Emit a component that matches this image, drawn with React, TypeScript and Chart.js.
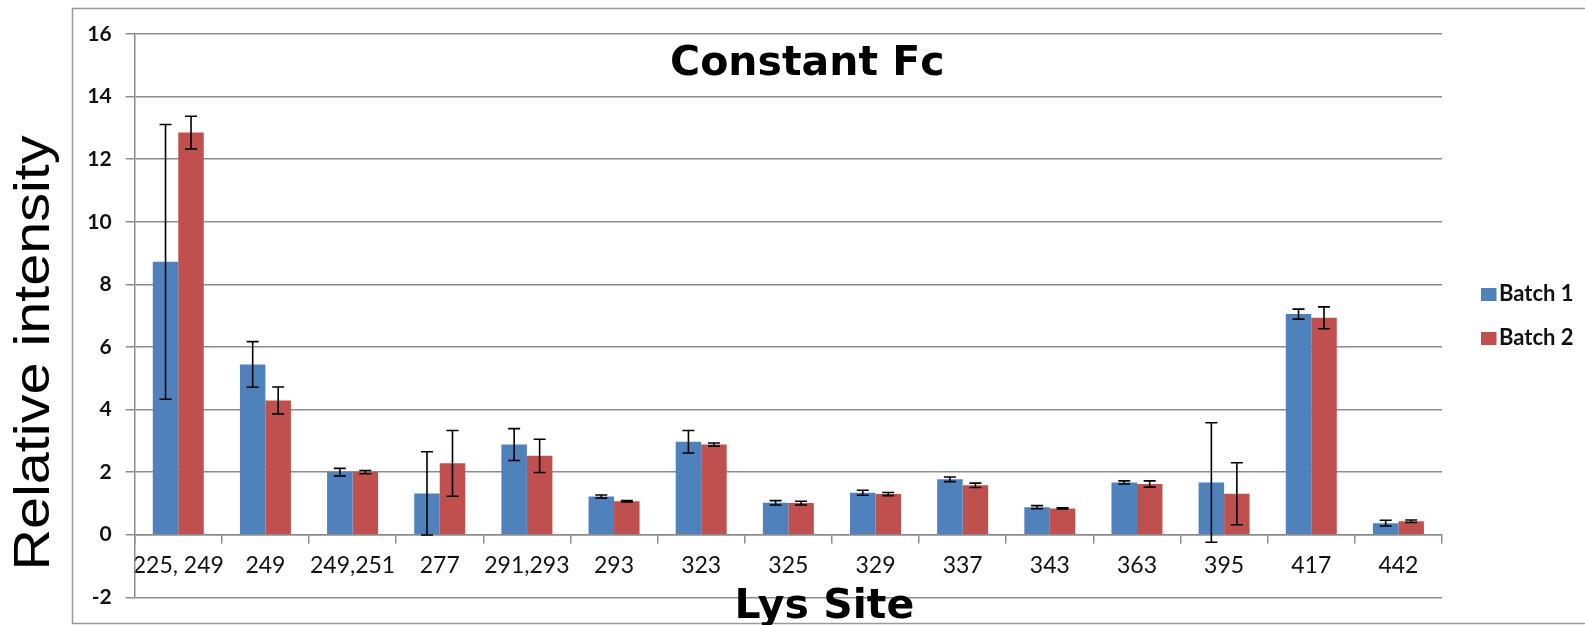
import React, { useEffect, useRef } from "react";
import { Chart, registerables } from "chart.js";

Chart.register(...registerables);

// ---- data ----
const categories = ["225, 249", "249", "249,251", "277", "291,293", "293", "323", "325", "329", "337", "343", "363", "395", "417", "442"];
const seriesNames = ["Batch 1", "Batch 2"];
const batch1 = [8.72, 5.44, 2.0, 1.32, 2.88, 1.22, 2.97, 1.02, 1.34, 1.77, 0.88, 1.67, 1.67, 7.05, 0.37];
const batch2 = [12.85, 4.29, 2.0, 2.28, 2.52, 1.07, 2.88, 1.01, 1.3, 1.58, 0.84, 1.62, 1.31, 6.93, 0.43];
const batch1Err = [4.39, 0.73, 0.12, 1.33, 0.51, 0.05, 0.36, 0.07, 0.08, 0.075, 0.05, 0.05, 1.91, 0.16, 0.09];
const batch2Err = [0.52, 0.43, 0.05, 1.05, 0.53, 0.02, 0.05, 0.06, 0.05, 0.07, 0.02, 0.1, 0.99, 0.35, 0.04];
const yMin = -2;
const yMax = 16;
const yStep = 2;
const chartTitle = "Constant Fc";
const xTitle = "Lys Site";
const yTitle = "Relative intensity";

const colors = ["#4F81BD", "#C0504D"];
const errors = [batch1Err, batch2Err];
const GRID = "#8c8c8c";

const errorBarPlugin = {
  id: "errorBars",
  afterDatasetsDraw(chart: any) {
    const ctx = chart.ctx;
    const yScale = chart.scales.y;
    ctx.save();
    ctx.strokeStyle = "#000";
    ctx.lineWidth = 1.6;
    chart.data.datasets.forEach((ds: any, i: number) => {
      const meta = chart.getDatasetMeta(i);
      meta.data.forEach((bar: any, j: number) => {
        const v = ds.data[j];
        const e = errors[i][j];
        const x = bar.x;
        const yTop = yScale.getPixelForValue(v + e);
        const yBot = yScale.getPixelForValue(v - e);
        const cap = 6;
        ctx.beginPath();
        ctx.moveTo(x, yTop);
        ctx.lineTo(x, yBot);
        ctx.moveTo(x - cap, yTop);
        ctx.lineTo(x + cap, yTop);
        ctx.moveTo(x - cap, yBot);
        ctx.lineTo(x + cap, yBot);
        ctx.stroke();
      });
    });
    ctx.restore();
  },
};

const decorPlugin = {
  id: "decor",
  afterDraw(chart: any) {
    const ctx = chart.ctx;
    const area = chart.chartArea;
    ctx.save();
    // outer border
    ctx.strokeStyle = "#9a9a9a";
    ctx.lineWidth = 1.5;
    ctx.strokeRect(72.5, 8.5, 1600, 615);

    ctx.fillStyle = "#000";
    // chart title
    ctx.font = "bold 41px 'DejaVu Sans'";
    ctx.textAlign = "center";
    ctx.textBaseline = "alphabetic";
    ctx.fillText(chartTitle, (area.left + area.right) / 2 + 19, 75);

    // x axis title
    ctx.fillText(xTitle, (area.left + area.right) / 2 + 36, 618);

    // y axis title
    ctx.save();
    ctx.font = "50px 'Liberation Sans'";
    const w = ctx.measureText(yTitle).width;
    ctx.translate(49, 353);
    ctx.rotate(-Math.PI / 2);
    ctx.scale(435 / w, 1);
    ctx.textAlign = "center";
    ctx.fillText(yTitle, 0, 0);
    ctx.restore();

    // legend
    ctx.font = "bold 22px Lato";
    ctx.textAlign = "left";
    chart.data.datasets.forEach((ds: any, i: number) => {
      const top = 288 + i * 44;
      ctx.fillStyle = ds.backgroundColor;
      ctx.fillRect(1481, top, 15.5, 13);
      ctx.fillStyle = "#111";
      ctx.fillText(ds.label, 1499, top + 13);
    });
    ctx.restore();
  },
};

export default function App() {
  const ref = useRef<HTMLCanvasElement | null>(null);

  useEffect(() => {
    if (!ref.current) return;
    const chart = new Chart(ref.current, {
      type: "bar",
      data: {
        labels: categories,
        datasets: [
          { label: seriesNames[0], data: batch1, backgroundColor: colors[0], borderWidth: 0 },
          { label: seriesNames[1], data: batch2, backgroundColor: colors[1], borderWidth: 0 },
        ],
      },
      options: {
        responsive: false,
        animation: false,
        devicePixelRatio: 1,
        layout: { padding: { left: 72, right: 143, top: 34, bottom: 27.7 } },
        datasets: { bar: { categoryPercentage: 0.585, barPercentage: 1.0 } },
        plugins: {
          legend: { display: false },
          title: { display: false },
          tooltip: { enabled: false },
        },
        scales: {
          x: {
            type: "category",
            position: { y: 0 } as any,
            offset: true,
            grid: {
              display: true,
              drawOnChartArea: false,
              drawTicks: true,
              tickLength: 8,
              color: GRID,
              lineWidth: 1.5,
              offset: true,
            },
            border: { display: true, color: GRID, width: 1.5 },
            ticks: {
              autoSkip: false,
              maxRotation: 0,
              minRotation: 0,
              padding: 9,
              color: "#111",
              font: { family: "Lato", size: 23 },
            },
          },
          y: {
            min: yMin,
            max: yMax,
            ticks: {
              stepSize: yStep,
              padding: 14,
              color: "#111",
              font: { family: "Lato", size: 21, weight: "bold" },
            },
            grid: { color: GRID, lineWidth: 1.5, tickLength: 9 },
            border: { display: true, color: GRID, width: 1.5 },
            afterFit: (s: any) => {
              s.width = 134.7 - 72;
            },
          },
        },
      } as any,
      plugins: [errorBarPlugin, decorPlugin],
    });
    return () => chart.destroy();
  }, []);

  return (
    <div style={{ position: "absolute", left: 0, top: 0, width: 1585, height: 625, background: "#fff" }}>
      <canvas ref={ref} width={1585} height={625} style={{ display: "block" }} />
    </div>
  );
}
